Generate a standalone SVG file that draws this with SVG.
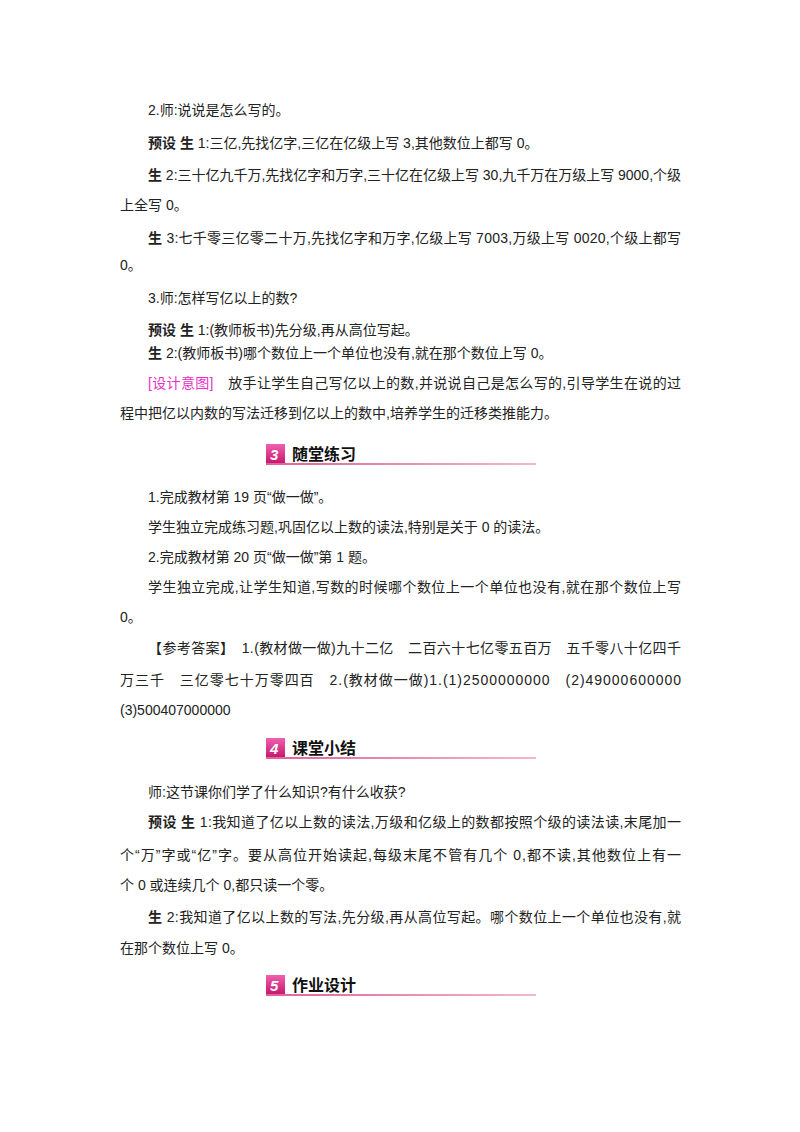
<svg xmlns="http://www.w3.org/2000/svg" width="800" height="1132" viewBox="0 0 800 1132">
<defs>
<style>
text{font-family:"Liberation Sans","Noto Sans CJK SC",sans-serif;font-size:14px;fill:#222}
.b{font-weight:bold}
.m{fill:#e830c8}
.h{font-size:16px;font-weight:bold;fill:#111}
.n{font-size:15px;font-weight:bold;font-style:italic;fill:#fff}
</style>
<linearGradient id="ul" x1="0" x2="1"><stop offset="0" stop-color="#e0609a"/><stop offset="1" stop-color="#f2b8cc"/></linearGradient>
<linearGradient id="sq" x1="0" y1="0" x2="0" y2="1"><stop offset="0" stop-color="#f060b0"/><stop offset="1" stop-color="#c8186e"/></linearGradient>
</defs>
<rect width="800" height="1132" fill="#fff"/>
<text x="148" y="115">2.师:说说是怎么写的。</text>
<text x="148" y="148"><tspan class="b">预设 生</tspan> 1:三亿,先找亿字,三亿在亿级上写 3,其他数位上都写 0。</text>
<text x="148" y="180" textLength="533" lengthAdjust="spacing"><tspan class="b">生</tspan> 2:三十亿九千万,先找亿字和万字,三十亿在亿级上写 30,九千万在万级上写 9000,个级</text>
<text x="120" y="210">上全写 0。</text>
<text x="148" y="243" textLength="533" lengthAdjust="spacing"><tspan class="b">生</tspan> 3:七千零三亿零二十万,先找亿字和万字,亿级上写 7003,万级上写 0020,个级上都写</text>
<text x="120" y="270">0。</text>
<text x="148" y="303">3.师:怎样写亿以上的数?</text>
<text x="148" y="335"><tspan class="b">预设 生</tspan> 1:(教师板书)先分级,再从高位写起。</text>
<text x="148" y="358"><tspan class="b">生</tspan> 2:(教师板书)哪个数位上一个单位也没有,就在那个数位上写 0。</text>
<text x="148" y="388" textLength="533" lengthAdjust="spacing"><tspan class="m">[设计意图]</tspan>　放手让学生自己写亿以上的数,并说说自己是怎么写的,引导学生在说的过</text>
<text x="120" y="418">程中把亿以内数的写法迁移到亿以上的数中,培养学生的迁移类推能力。</text>
<g id="h3"><rect x="266" y="444" width="19" height="19" fill="url(#sq)"/><text x="270" y="460" class="n">3</text><text x="292" y="460" class="h">随堂练习</text><rect x="266" y="463" width="270" height="2" fill="url(#ul)"/></g>
<text x="148" y="502">1.完成教材第 19 页“做一做”。</text>
<text x="148" y="532">学生独立完成练习题,巩固亿以上数的读法,特别是关于 0 的读法。</text>
<text x="148" y="562">2.完成教材第 20 页“做一做”第 1 题。</text>
<text x="148" y="592" textLength="533" lengthAdjust="spacing">学生独立完成,让学生知道,写数的时候哪个数位上一个单位也没有,就在那个数位上写</text>
<text x="120" y="622">0。</text>
<text x="148" y="653" textLength="533" lengthAdjust="spacing">【参考答案】　1.(教材做一做)九十二亿　二百六十七亿零五百万　五千零八十亿四千</text>
<text x="120" y="685" textLength="561" lengthAdjust="spacing">万三千　三亿零七十万零四百　2.(教材做一做)1.(1)2500000000　(2)49000600000</text>
<text x="120" y="715">(3)500407000000</text>
<g id="h4"><rect x="266" y="738" width="19" height="19" fill="url(#sq)"/><text x="270" y="754" class="n">4</text><text x="292" y="754" class="h">课堂小结</text><rect x="266" y="757" width="270" height="2" fill="url(#ul)"/></g>
<text x="148" y="797">师:这节课你们学了什么知识?有什么收获?</text>
<text x="148" y="827" textLength="533" lengthAdjust="spacing"><tspan class="b">预设 生</tspan> 1:我知道了亿以上数的读法,万级和亿级上的数都按照个级的读法读,末尾加一</text>
<text x="120" y="860" textLength="561" lengthAdjust="spacing">个“万”字或“亿”字。要从高位开始读起,每级末尾不管有几个 0,都不读,其他数位上有一</text>
<text x="120" y="890">个 0 或连续几个 0,都只读一个零。</text>
<text x="148" y="922" textLength="533" lengthAdjust="spacing"><tspan class="b">生</tspan> 2:我知道了亿以上数的写法,先分级,再从高位写起。哪个数位上一个单位也没有,就</text>
<text x="120" y="953">在那个数位上写 0。</text>
<g id="h5"><rect x="266" y="975" width="19" height="19" fill="url(#sq)"/><text x="270" y="991" class="n">5</text><text x="292" y="991" class="h">作业设计</text><rect x="266" y="994" width="270" height="2" fill="url(#ul)"/></g>
</svg>
